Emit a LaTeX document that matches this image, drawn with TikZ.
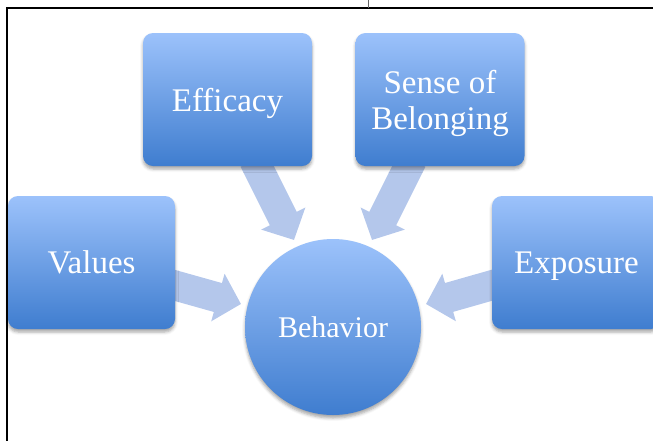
\documentclass[tikz,border=0pt]{standalone}
\usepackage{fontspec}
\setmainfont{Liberation Serif}
\usetikzlibrary{arrows.meta,shadows.blur}
\definecolor{boxtop}{RGB}{156,194,251}
\definecolor{boxbot}{RGB}{63,125,207}
\definecolor{arrowcol}{RGB}{180,199,235}
\pgfdeclarelayer{bg}
\pgfsetlayers{bg,main}
\tikzset{
  factor/.style={rectangle, rounded corners=10pt, minimum width=169pt, minimum height=133pt,
    top color=boxtop, bottom color=boxbot, text=white, align=center, inner sep=0pt,
    text depth=0pt, font=\fontsize{33}{36}\selectfont,
    blur shadow={shadow xshift=0pt, shadow yshift=-3pt, shadow blur radius=3pt, shadow opacity=35}},
  centre/.style={circle, minimum size=176pt, inner sep=0pt,
    top color=boxtop, bottom color=boxbot, text=white, text depth=0pt,
    font=\fontsize{30}{34}\selectfont,
    blur shadow={shadow xshift=0pt, shadow yshift=-3pt, shadow blur radius=3pt, shadow opacity=35}},
  blockarrow/.style={draw=arrowcol, line width=30pt, -{Triangle[width=48pt,length=24pt]}},
  frameline/.style={line width=2pt, black}
}
\begin{document}
\begin{tikzpicture}[x=1pt,y=-1pt]
\useasboundingbox (0,0) rectangle (653,440);
% frame
\coordinate (ftl) at (7,8);
\coordinate (ftr) at (660,8);
\coordinate (fbl) at (7,445);
\coordinate (tk1) at (368,0);
\coordinate (tk2) at (368,8);
\draw[frameline] (ftr) -- (ftl) -- (fbl);
\draw[line width=0.6pt, black!60] (tk1) -- (tk2);
% nodes
\node[factor] (efficacy) at (227.5,99.5) {Efficacy};
\node[factor] (sense) at (440,99.5) {Sense of\\Belonging};
\node[factor, minimum width=167pt] (values) at (91.5,262.5) {Values};
\node[factor] (exposure) at (576.5,262.5) {Exposure};
\node[centre] (behavior) at (333,327) {Behavior};
% arrow anchors
\coordinate (a1s) at (168,283.5);
\coordinate (a1e) at (241,304);
\coordinate (a2s) at (254,160);
\coordinate (a2e) at (294,240);
\coordinate (a3s) at (412,160);
\coordinate (a3e) at (372,240);
\coordinate (a4s) at (498,283.5);
\coordinate (a4e) at (426,304);
\begin{pgfonlayer}{bg}
\draw[blockarrow] (a1s) -- (a1e);
\draw[blockarrow] (a2s) -- (a2e);
\draw[blockarrow] (a3s) -- (a3e);
\draw[blockarrow] (a4s) -- (a4e);
\end{pgfonlayer}
\end{tikzpicture}
\end{document}
